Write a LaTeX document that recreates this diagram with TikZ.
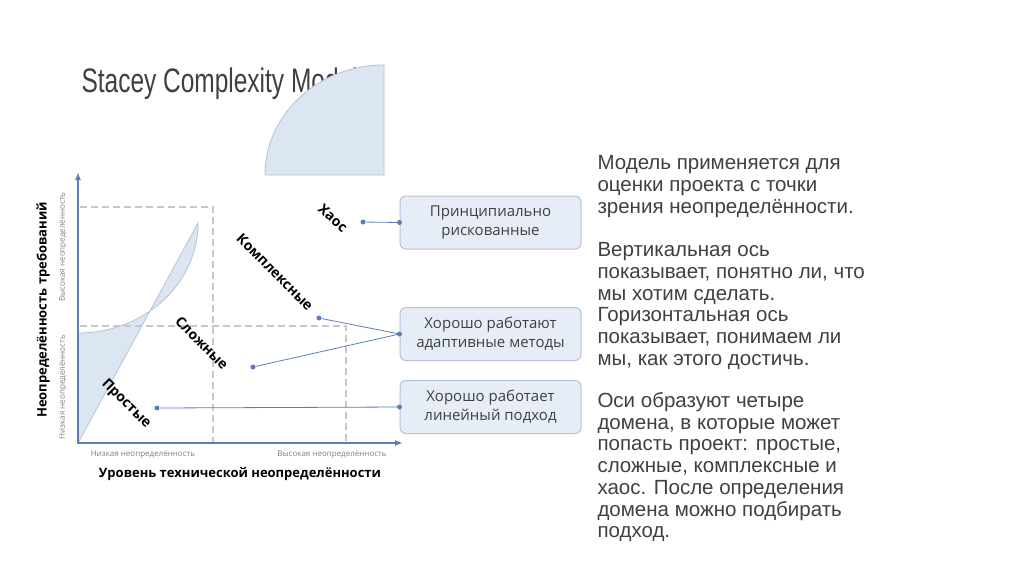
\documentclass[tikz,border=0pt]{standalone}
\usepackage{fontspec}
\usetikzlibrary{arrows.meta}
\setmainfont{Open Sans}
\newfontfamily\arialf{Liberation Sans}
\newfontfamily\titlef[FakeStretch=0.72]{Liberation Sans}
\definecolor{axc}{HTML}{5B7FB5}
\definecolor{fillb}{HTML}{DCE6F2}
\definecolor{boxd}{HTML}{B5C3D6}
\definecolor{dashc}{HTML}{C8C8C8}
\definecolor{tx}{HTML}{404040}
\begin{document}
\begin{tikzpicture}[x=1pt,y=-1pt,
  dom/.style={fill=fillb,draw=boxd,line width=0.8pt},
  rbox/.style={draw=boxd,fill=fillb!70,rounded corners=6pt,minimum width=181pt,minimum height=53pt,align=center,font=\fontsize{15}{19}\selectfont,text=tx,line width=1pt},
  dl/.style={draw=dashc,line width=1.4pt,dash pattern=on 7pt off 4pt},
  conn/.style={draw=axc,line width=0.8pt},
  dotn/.style={circle,fill=axc,inner sep=0pt,minimum size=5pt},
  dlab/.style={font=\bfseries\fontsize{14}{16}\selectfont},
  small/.style={font=\fontsize{8}{9}\selectfont,text=gray}]
\useasboundingbox (0,0) rectangle (1024,574);
\fill[white] (0,0) rectangle (1024,574);
\node[anchor=west,font=\titlef\fontsize{34}{36}\selectfont,text=tx] (title) at (78,84) {Stacey Complexity Model};
% domains
\path[dom] (78,443) -- (78,333) arc[start angle=90,end angle=0,x radius=120,y radius=110] -- cycle;
\path[dom] (384,175) -- (265,175) arc[start angle=180,end angle=270,x radius=119,y radius=110] -- cycle;
% dashed
\draw[dl] (80,207) -- (213,207) -- (213,443);
\draw[dl] (80,326) -- (346,326) -- (346,443);
% axes
\draw[draw=axc,line width=2pt,-{Latex[length=8pt,width=6pt]}] (78,444) -- (78,172);
\draw[draw=axc,line width=2pt,-{Latex[length=8pt,width=6pt]}] (77,443) -- (403,443);
% labels
\node[rotate=90,font=\bfseries\fontsize{13}{15}\selectfont] (yl) at (43,310) {Неопределённость требований};
\node[rotate=90,small] (yl1) at (63,387) {Низкая неопределённость};
\node[rotate=90,small] (yl2) at (63,247) {Высокая неопределённость};
\node[small] (xl1) at (143,455) {Низкая неопределённость};
\node[small] (xl2) at (332,455) {Высокая неопределённость};
\node[font=\bfseries\fontsize{13}{15}\selectfont] (xl) at (240,474) {Уровень технической неопределённости};
\node[dlab,rotate=-42] (haos) at (333,218) {Хаос};
\node[dlab,rotate=-45] (kompl) at (275,272) {Комплексные};
\node[dlab,rotate=-45] (slozh) at (202,343) {Сложные};
\node[dlab,rotate=-45] (prost) at (126,404) {Простые};
% boxes
\node[rbox] (b1) at (490.5,222.5) {Принципиально\\рискованные};
\node[rbox] (b2) at (490.5,334) {Хорошо работают\\адаптивные методы};
\node[rbox] (b3) at (490.5,407) {Хорошо работает\\линейный подход};
% dots and connectors
\node[dotn] (d1) at (363,222) {};
\node[dotn] (d2) at (319,318) {};
\node[dotn] (d3) at (253,367) {};
\node[dotn] (d4) at (157,408) {};
\draw[conn] (d1) -- (b1.west) node[dotn]{};
\draw[conn] (d2) -- (b2.west) node[dotn]{};
\draw[conn] (d3) -- (b2.west);
\draw[conn] (d4) -- (b3.west) node[dotn]{};
% right text
\node[anchor=north west,align=left,font=\arialf\fontsize{20.5}{21.7}\selectfont,text=tx] (t1) at (594,152) {Модель применяется для\\оценки проекта с точки\\зрения неопределённости.};
\node[anchor=north west,align=left,font=\arialf\fontsize{20.5}{21.7}\selectfont,text=tx] (t2) at (594,239) {Вертикальная ось\\показывает, понятно ли, что\\мы хотим сделать.\\Горизонтальная ось\\показывает, понимаем ли\\мы, как этого достичь.};
\node[anchor=north west,align=left,font=\arialf\fontsize{20.5}{21.7}\selectfont,text=tx] (t3) at (594,389) {Оси образуют четыре\\домена, в которые может\\попасть проект: простые,\\сложные, комплексные и\\хаос. После определения\\домена можно подбирать\\подход.};
\end{tikzpicture}
\end{document}
